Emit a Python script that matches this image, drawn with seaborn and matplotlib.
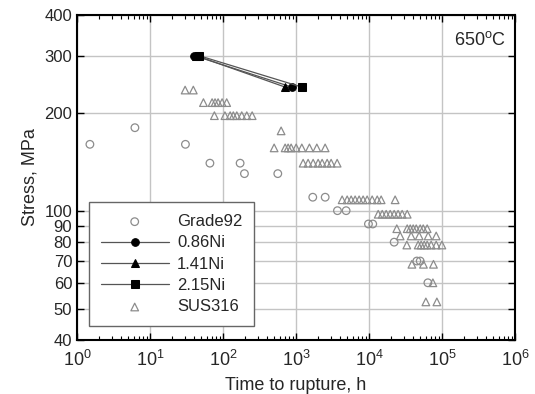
import matplotlib
matplotlib.use('Agg')
import matplotlib.pyplot as plt
import matplotlib.ticker as mticker
import seaborn as sns
import pandas as pd

# ==============================================================================
# DATA
# ==============================================================================
grade92_time = [1.5, 6.2, 30.5, 66, 171, 196, 561, 1690, 2500, 3680, 4840,
                9780, 11200, 22000, 45000, 50000, 63700]
grade92_stress = [160, 180, 160, 140, 140, 130, 130, 110, 110, 100, 100,
                  91, 91, 80, 70, 70, 60]

ni086_time = [40, 873]
ni086_stress = [300, 240]
ni141_time = [42.6, 707]
ni141_stress = [300, 240]
ni215_time = [46.4, 1197]
ni215_stress = [300, 240]

sus316_time = [30.2, 39.1,
               53.8, 70.7, 77.6, 85.4, 96.9, 112,
               76, 106, 125, 138, 154, 180, 211, 250,
               623,
               500, 707, 777, 854, 1000, 1197, 1521, 1922, 2496,
               1247, 1459, 1710, 2002, 2270, 2660, 3016, 3645,
               4266, 5000, 5670, 6430, 7290, 8270, 9390, 11000, 12900, 14600, 22700,
               13300, 15100, 17100, 19400, 22000, 24900, 28300, 33200,
               23900, 33200, 36500, 40100, 44100, 50000, 55000, 62300,
               26600, 37600, 48400, 64300, 82800,
               32800, 46900, 51500, 56700, 62300, 70600, 82800, 99100,
               38500, 55400, 76000,
               74600,
               59800, 84600]
sus316_stress = [235, 235,
                 215, 215, 215, 215, 215, 215,
                 196, 196, 196, 196, 196, 196, 196, 196,
                 176,
                 156, 156, 156, 156, 156, 156, 156, 156, 156,
                 140, 140, 140, 140, 140, 140, 140, 140,
                 108, 108, 108, 108, 108, 108, 108, 108, 108, 108, 108,
                 97.5, 97.5, 97.5, 97.5, 97.5, 97.5, 97.5, 97.5,
                 88, 88, 88, 88, 88, 88, 88, 88,
                 83.6, 83.6, 83.6, 83.6, 83.6,
                 78.4, 78.4, 78.4, 78.4, 78.4, 78.4, 78.4, 78.4,
                 68.4, 68.4, 68.4,
                 60,
                 52.4, 52.4]

x_ticks = [1, 10, 100, 1e3, 1e4, 1e5, 1e6]
y_ticks = [40, 50, 60, 70, 80, 90, 100, 200, 300, 400]

# ==============================================================================
# PLOT
# ==============================================================================
sns.set_style('ticks')
plt.rcParams['font.family'] = ['Liberation Sans', 'DejaVu Sans']
plt.rcParams['mathtext.default'] = 'regular'

fig = plt.figure(figsize=(5.35, 3.94), dpi=100)
ax = fig.add_axes([0.144, 0.137, 0.819, 0.825])
ax.set_xscale('log')
ax.set_yscale('log')

open_kw = dict(facecolors='none', edgecolors='#8c8c8c', linewidth=0.9, s=30, zorder=3)

sns.scatterplot(x=grade92_time, y=grade92_stress, marker='o', ax=ax,
                label='Grade92', **open_kw)

line_kw = dict(color='#555555', linewidth=0.9, markersize=5.5,
               markerfacecolor='black', markeredgecolor='black', zorder=4)
df_086 = pd.DataFrame({'t': ni086_time, 's': ni086_stress})
df_141 = pd.DataFrame({'t': ni141_time, 's': ni141_stress})
df_215 = pd.DataFrame({'t': ni215_time, 's': ni215_stress})
sns.lineplot(data=df_086, x='t', y='s', marker='o', ax=ax, label='0.86Ni', **line_kw)
sns.lineplot(data=df_141, x='t', y='s', marker='^', ax=ax, label='1.41Ni', **line_kw)
sns.lineplot(data=df_215, x='t', y='s', marker='s', ax=ax, label='2.15Ni', **line_kw)

sns.scatterplot(x=sus316_time, y=sus316_stress, marker='^', ax=ax,
                label='SUS316', **open_kw)

ax.set_xlim(1, 1e6)
ax.set_ylim(40, 400)
ax.xaxis.set_major_locator(mticker.FixedLocator(x_ticks))
ax.xaxis.set_major_formatter(mticker.LogFormatterSciNotation())
ax.xaxis.set_minor_locator(mticker.LogLocator(base=10, subs=range(2, 10), numticks=20))
ax.xaxis.set_minor_formatter(mticker.NullFormatter())
ax.yaxis.set_major_locator(mticker.FixedLocator(y_ticks))
ax.yaxis.set_major_formatter(mticker.FixedFormatter([str(v) for v in y_ticks]))
ax.yaxis.set_minor_locator(mticker.NullLocator())

ax.tick_params(axis='both', which='both', direction='in', top=True, right=True,
               color='black')
ax.tick_params(axis='x', labelsize=13)
ax.tick_params(axis='y', labelsize=12)
ax.tick_params(which='major', length=5, width=1)
ax.tick_params(which='minor', length=3, width=0.8)
ax.tick_params(axis='x', which='major', pad=7)

ax.grid(True, which='major', color='#c4c4c4', linewidth=1)
ax.set_axisbelow(True)
for sp in ax.spines.values():
    sp.set_color('black')
    sp.set_linewidth(1.5)

ax.set_xlabel('Time to rupture, h', fontsize=13, labelpad=5)
ax.set_ylabel('Stress, MPa', fontsize=13, labelpad=4)

ax.text(0.979, 0.923, '650$^{o}$C', transform=ax.transAxes, ha='right', va='center',
        fontsize=13)

leg = ax.legend(loc='lower left', bbox_to_anchor=(0.027, 0.043), fontsize=12,
                frameon=True, fancybox=False, edgecolor='#666666', framealpha=1,
                handlelength=4.1, handletextpad=0.5, labelspacing=0.38,
                borderpad=0.7, borderaxespad=0)
leg.get_frame().set_linewidth(1.0)

fig.savefig('out.png', dpi=100)
